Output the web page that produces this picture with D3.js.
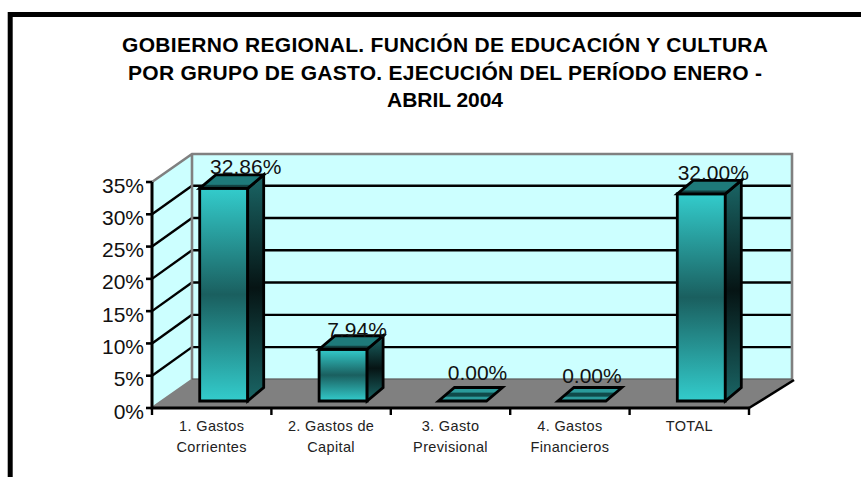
<!DOCTYPE html>
<html><head><meta charset="utf-8">
<script src="https://cdn.jsdelivr.net/npm/d3@7"></script>
<style>html,body{margin:0;padding:0;background:#fff}svg{display:block}text{font-family:"Liberation Sans",Arial,sans-serif}</style>
</head><body><div id="c"></div>
<script>
const titleLines=["GOBIERNO REGIONAL. FUNCIÓN DE EDUCACIÓN Y CULTURA","POR GRUPO DE GASTO. EJECUCIÓN DEL PERÍODO ENERO -","ABRIL 2004"];
const categories=[["1. Gastos","Corrientes"],["2. Gastos de","Capital"],["3. Gasto","Previsional"],["4. Gastos","Financieros"],["TOTAL"]];
const values=[32.86,7.94,0,0,32.00];
const valueLabels=["32.86%","7.94%","0.00%","0.00%","32.00%"];
const ticks=[0,5,10,15,20,25,30,35];
const labelShiftX=[22,14,15,10,12];
const labelShiftY=[14,12.5,21,18,13.5];
const titleWidths=[646,634,116];
const W=861,H=477;
const svg=d3.select("#c").append("svg").attr("width",W).attr("height",H);
const defs=svg.append("defs");
function grad(id,stops){const g=defs.append("linearGradient").attr("id",id).attr("x1",0).attr("x2",0).attr("y1",0).attr("y2",1);
 stops.forEach(s=>g.append("stop").attr("offset",s[0]).attr("stop-color",s[1]));}
grad("front",[[0,"#33CCCC"],[.5,"#1a5f5f"],[1,"#33CCCC"]]);
grad("side",[[0,"#1a6666"],[.5,"#061414"],[1,"#1a6666"]]);
grad("top",[[0,"#1e7a7a"],[.7,"#1e7a7a"],[.8,"#123f3f"],[1,"#123f3f"]]);
grad("flat",[[0,"#2a9a9a"],[.35,"#2a9a9a"],[.4,"#0f4a4a"],[.65,"#0f4a4a"],[.7,"#2a9a9a"],[1,"#2a9a9a"]]);
// frame
svg.append("path").attr("d","M10.2,477V14.5H861").attr("fill","none").attr("stroke","#000").attr("stroke-width",5);
// title
svg.append("g").selectAll("text").data(titleLines).join("text")
 .attr("x",445).attr("y",(d,i)=>52+i*27.5).attr("text-anchor","middle")
 .attr("font-weight","bold").attr("font-size",21)
 .attr("textLength",(d,i)=>titleWidths[i]).attr("lengthAdjust","spacing").text(d=>d);
// scales
const y=d3.scaleLinear().domain([0,35]).range([408,182]);
const x=d3.scaleBand().domain(d3.range(5)).range([152,749]);
const dx=40,dy=-28; // wall depth
const bw=48,bdx=16,bdy=-13.5,ox=12,oy=-7;
// walls
svg.append("path").attr("d",`M152,${y(0)}L152,${y(35)}L${152+dx},${y(35)+dy}L${152+dx},${y(0)+dy}Z`).attr("fill","#CCFFFF");
svg.append("rect").attr("x",152+dx).attr("y",y(35)+dy).attr("width",600).attr("height",y(0)-y(35)).attr("fill","#CCFFFF");
// floor
svg.append("path").attr("d",`M152,${y(0)}L${152+dx},${y(0)+dy}L${749+dx+5},${y(0)+dy}L749,${y(0)}Z`).attr("fill","#808080");
// back grid
svg.append("g").selectAll("line").data(ticks.filter(t=>t>0&&t<35)).join("line")
 .attr("x1",192).attr("x2",792).attr("y1",d=>y(d)+dy-.6).attr("y2",d=>y(d)+dy-.6).attr("stroke","#000").attr("stroke-width",2.4);
svg.append("g").selectAll("line").data(ticks.filter(t=>t>0&&t<35)).join("line")
 .attr("x1",152).attr("x2",192).attr("y1",d=>y(d)).attr("y2",d=>y(d)+dy-.6).attr("stroke","#000").attr("stroke-width",2.4);
// wall edges (grey)
svg.append("path").attr("d",`M152,${y(35)}L192,${y(35)+dy}H792V${y(0)+dy}M192,${y(35)+dy}V${y(0)+dy}H792M192,${y(0)+dy}L152,${y(0)}`).attr("fill","none").attr("stroke","#808080").attr("stroke-width",2.6);
svg.append("line").attr("x1",192).attr("x2",792).attr("y1",y(0)+dy-1).attr("y2",y(0)+dy-1).attr("stroke","#555").attr("stroke-width",1);
// floor right edge
svg.append("path").attr("d",`M749,${y(0)}L794,${y(0)+dy}`).attr("stroke","#000").attr("stroke-width",2.6);
// bars
const h=v=>y(0)-y(v)+0.5;
const bars=svg.append("g").selectAll("g").data(values).join("g");
const bx=(i)=>x(i)+x.bandwidth()/2+ox-bw/2, by=y(0)+oy;
bars.each(function(v,i){
 const g=d3.select(this),L=bx(i),R=L+bw,B=by,T=by-(v>0?h(v):0);
 const f=(d,fill)=>g.append("path").attr("d",d).attr("fill",fill).attr("stroke","#000").attr("stroke-width",2.8).attr("stroke-linejoin","miter");
 if(v>0){f(`M${L},${T}H${R}V${B}H${L}Z`,"url(#front)");
  f(`M${R},${T}L${R+bdx},${T+bdy}V${B+bdy}L${R},${B}Z`,"url(#side)");}
 f(`M${L},${T}L${L+bdx},${T+bdy}H${R+bdx}L${R},${T}Z`,v>0?"url(#top)":"url(#flat)");
});
svg.append("g").selectAll("text").data(values).join("text")
 .attr("x",(d,i)=>bx(i)+bw/2+labelShiftX[i]).attr("y",(d,i)=>by-(d>0?h(d):0)-labelShiftY[i]).attr("text-anchor","middle")
 .attr("font-size",21).attr("fill","#111").text((d,i)=>valueLabels[i]);
// y axis
svg.append("path").attr("d",`M152,${y(35)}V${y(0)}H749`).attr("fill","none").attr("stroke","#000").attr("stroke-width",3);
svg.append("g").selectAll("line").data(ticks).join("line").attr("x1",146).attr("x2",152).attr("y1",d=>y(d)).attr("y2",d=>y(d)).attr("stroke","#000").attr("stroke-width",2.6);
svg.append("g").selectAll("text").data(ticks).join("text").attr("x",144).attr("y",d=>y(d)+10.5).attr("text-anchor","end").attr("font-size",21).attr("fill","#111").text(d=>d+"%");
// x ticks
svg.append("g").selectAll("line").data(d3.range(6)).join("line").attr("x1",d=>152+d*x.step()).attr("x2",d=>152+d*x.step()).attr("y1",408).attr("y2",415).attr("stroke","#000").attr("stroke-width",2.4);
// x labels
const cat=svg.append("g").selectAll("text").data(categories).join("text").attr("text-anchor","middle").attr("font-size",14.5).attr("letter-spacing",.35).attr("fill","#222");
cat.each(function(d,i){d3.select(this).selectAll("tspan").data(d).join("tspan").attr("x",x(i)+x.bandwidth()/2).attr("y",(t,j)=>431+j*21).text(t=>t);});
</script></body></html>
